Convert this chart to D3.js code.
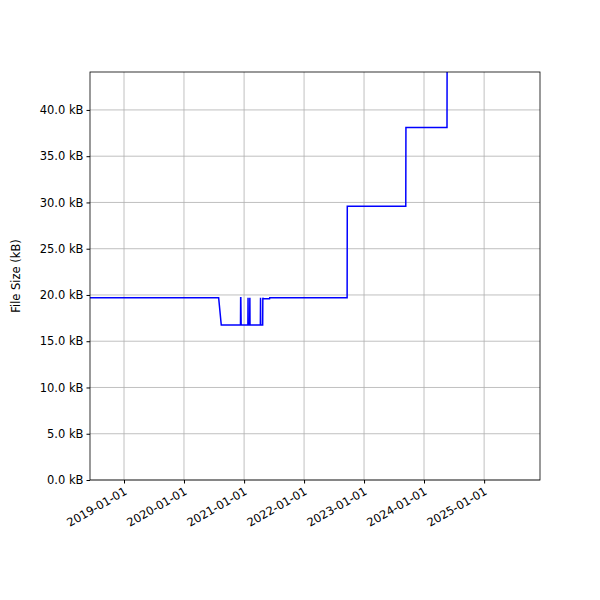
<!DOCTYPE html><html><head><script src="https://cdn.jsdelivr.net/npm/d3@7"></script>
<style>body{margin:0}text{font-family:"DejaVu Sans";}</style></head><body><svg id="c" width="600" height="600"></svg>
<script>
const dates=["2018-06-01","2020-07-30","2020-08-15","2020-12-10","2020-12-11","2020-12-12","2020-12-14","2021-01-24","2021-01-25","2021-01-26","2021-02-04","2021-02-05","2021-02-06","2021-04-10","2021-04-11","2021-04-12","2021-04-24","2021-04-25","2021-04-26","2021-05-05","2021-06-05","2021-06-06","2022-09-20","2022-09-21","2023-09-12","2023-09-13","2024-05-20","2024-05-21"];
const sizes=[19.7,19.7,16.75,16.75,19.7,19.7,16.75,16.75,19.7,16.75,16.75,19.7,16.75,16.75,19.7,16.75,16.75,19.7,19.6,19.6,19.6,19.7,19.7,29.6,29.6,38.1,38.1,50];
const yTicks=[0,5,10,15,20,25,30,35,40];
const xTicks=["2019-01-01","2020-01-01","2021-01-01","2022-01-01","2023-01-01","2024-01-01","2025-01-01"];
const svg=d3.select("#c"),L=90,R=540,T=72,B=480;
const p=d3.utcParse("%Y-%m-%d");
const x=d3.scaleUtc().domain([p("2018-06-08"),p("2025-12-07")]).range([L,R]);
const y=d3.scaleLinear().domain([0,44.1]).range([B,T]);
const g=svg.append("g");
g.selectAll(".gx").data(xTicks).join("line").attr("x1",d=>x(p(d))).attr("x2",d=>x(p(d))).attr("y1",T).attr("y2",B).attr("stroke","#b0b0b0").attr("stroke-width",0.8);
g.selectAll(".gy").data(yTicks).join("line").attr("y1",d=>y(d)).attr("y2",d=>y(d)).attr("x1",L).attr("x2",R).attr("stroke","#b0b0b0").attr("stroke-width",0.8);
svg.append("defs").append("clipPath").attr("id","cp").append("rect").attr("x",L).attr("y",T).attr("width",R-L).attr("height",B-T);
const pts=dates.map((d,i)=>[p(d),sizes[i]]);
svg.append("path").attr("clip-path","url(#cp)").attr("d",d3.line().x(d=>x(d[0])).y(d=>y(d[1]))(pts)).attr("fill","none").attr("stroke","blue").attr("stroke-width",1.5);
const ax=svg.append("g").attr("transform",`translate(0,${B})`).call(d3.axisBottom(x).tickValues(xTicks.map(p)).tickFormat(d3.utcFormat("%Y-%m-%d")).tickSizeOuter(0).tickSize(3.5));
ax.selectAll("text").attr("font-size",11.5).attr("fill","#000").attr("text-anchor","end").attr("dx","0").attr("dy","0").attr("transform","translate(0,8) rotate(-30)");
const ay=svg.append("g").attr("transform",`translate(${L},0)`).call(d3.axisLeft(y).tickValues(yTicks).tickFormat(d=>d.toFixed(1)+" kB").tickSizeOuter(0).tickSize(3.5));
ay.selectAll("text").attr("font-size",11.5).attr("fill","#000");
svg.selectAll(".domain").remove();
svg.append("rect").attr("x",L).attr("y",T).attr("width",R-L).attr("height",B-T).attr("fill","none").attr("stroke","#000").attr("stroke-width",0.8);
svg.append("text").attr("transform",`translate(20,${(T+B)/2}) rotate(-90)`).attr("text-anchor","middle").attr("font-size",11.5).text("File Size (kB)");
</script></body></html>
